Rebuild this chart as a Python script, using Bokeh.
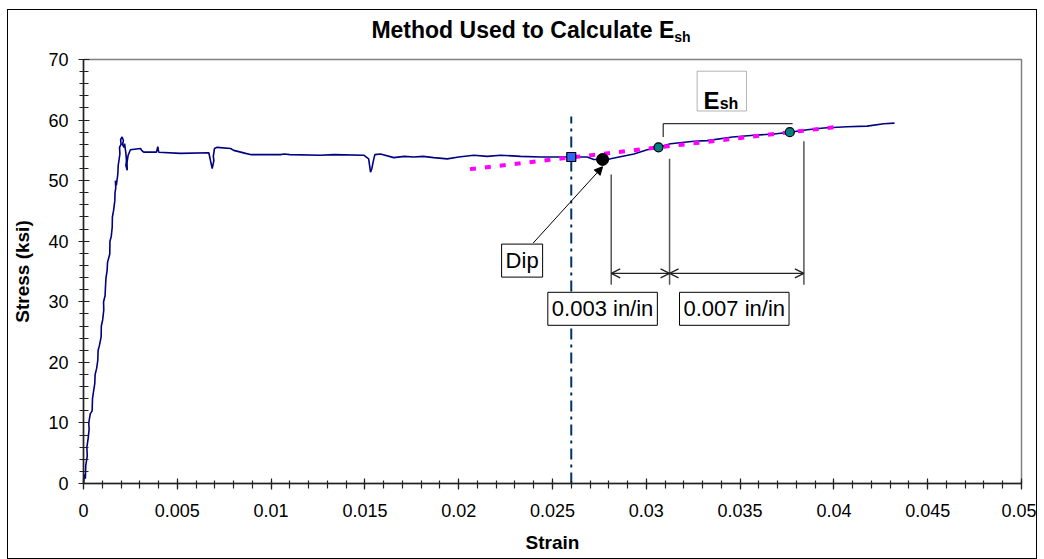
from bokeh.plotting import figure
from bokeh.layouts import column
from bokeh.models import (Range1d, FixedTicker, CustomJSTickFormatter, Label, Arrow,
                          OpenHead, NormalHead, BoxAnnotation, Div)
from bokeh.embed import file_html
from bokeh.resources import INLINE

# ---------------- data ----------------
strain = [0, 0.00005, 0.0001, 0.00012, 0.0002, 0.00018, 0.00025, 0.0003, 0.00028, 0.00036,
          0.00046, 0.00048, 0.00055, 0.0006, 0.00062, 0.0007, 0.00076, 0.00078, 0.00085, 0.00094,
          0.00095, 0.00102, 0.00108, 0.00107, 0.00115, 0.00117, 0.0012, 0.00126, 0.00128, 0.0014,
          0.00141, 0.00148, 0.00153, 0.00154, 0.0016, 0.00167, 0.00168, 0.00172, 0.0017, 0.00175,
          0.00183, 0.00185, 0.00194, 0.00192, 0.002, 0.00198, 0.00206, 0.00213, 0.00208, 0.00216,
          0.00219, 0.00226, 0.00229, 0.00226, 0.00233, 0.00232, 0.00238, 0.0025, 0.00304, 0.0031,
          0.00321, 0.00389, 0.00396, 0.00401, 0.00517, 0.00668, 0.00677, 0.00686, 0.00695, 0.00692,
          0.00698, 0.00713, 0.00784, 0.00801, 0.00864, 0.0089, 0.0105, 0.0107, 0.0110, 0.01263,
          0.01334, 0.01494, 0.0152, 0.0153, 0.01537, 0.01544, 0.01553, 0.01583, 0.01654, 0.0171,
          0.01761, 0.0181, 0.01867, 0.01939, 0.0200, 0.0208, 0.02152, 0.02223, 0.0233, 0.02436,
          0.02596, 0.02685, 0.0272, 0.02767, 0.02809, 0.02934, 0.03005, 0.03065, 0.03129, 0.03254,
          0.03324, 0.0346, 0.03573, 0.0368, 0.03765, 0.03858, 0.03946, 0.0407, 0.04177, 0.04266,
          0.04323]
stress = [0, 1.5, 0.8, 3.0, 4.5, 6.0, 7.5, 9.0, 10.0, 11.5,
          12.0, 14.0, 15.5, 16.5, 18.0, 19.0, 20.3, 22.0, 22.8, 24.2,
          26.0, 27.0, 28.6, 30.0, 31.0, 32.4, 34.0, 35.2, 36.5, 37.9,
          40.0, 40.8, 42.3, 44.0, 45.0, 46.7, 48.0, 48.8, 50.0, 49.2,
          51.1, 52.5, 54.4, 55.5, 56.0, 56.8, 57.2, 56.6, 56.0, 55.5,
          56.1, 54.5, 53.3, 52.5, 51.7, 53.0, 54.2, 55.1, 55.3, 55.0,
          54.7, 54.7, 55.6, 54.7, 54.5, 54.6, 53.3, 52.0, 53.3, 54.0,
          55.3, 55.5, 55.3, 55.0, 54.5, 54.3, 54.3, 54.4, 54.3, 54.2,
          54.3, 54.2, 53.6, 51.4, 52.0, 53.1, 54.3, 54.4, 53.8, 54.0,
          53.9, 54.0, 53.8, 53.6, 53.9, 54.2, 54.0, 54.2, 54.0, 53.9,
          53.9, 53.9, 53.5, 53.5, 53.6, 54.4, 55.1, 55.5, 56.1, 56.5,
          56.6, 57.2, 57.5, 57.7, 58.0, 58.4, 58.7, 58.9, 59.0, 59.4,
          59.5]

start_strain = [0.026]          # start of strain hardening (blue square)
start_stress = [53.9]
dip_strain = [0.02767]          # dip (black circle)
dip_stress = [53.5]
esh_strain = [0.03065, 0.03765]  # points used for E_sh (teal circles)
esh_stress = [55.5, 58.0]
fit_strain = [0.0206, 0.0402]   # E_sh line (magenta)
fit_stress = [51.9, 58.9]
vline_strain = [0.026, 0.026]
vline_stress = [0, 60.6]

dim_x = [0.02813, 0.03124, 0.0384]      # dimension lines
dim_top = [51.0, 53.6, 56.5]
dim_bottom = [32.8, 32.8, 32.8]
dim_arrow_y = 34.7
bracket_x = [0.0309, 0.0309, 0.0378]
bracket_y = [57.2, 59.4, 59.4]

x_ticks = [0, 0.005, 0.01, 0.015, 0.02, 0.025, 0.03, 0.035, 0.04, 0.045, 0.05]
x_tick_labels = ["0", "0.005", "0.01", "0.015", "0.02", "0.025", "0.03", "0.035", "0.04", "0.045", "0.05"]
y_ticks = [0, 10, 20, 30, 40, 50, 60, 70]
y_tick_labels = ["0", "10", "20", "30", "40", "50", "60", "70"]
x_minor = [i * 0.001 for i in range(51)]
y_minor = [i * 2 for i in range(36)]

FONT = "Liberation Sans"

title_div = Div(
    text=('<div style="width:1028px; text-align:center; padding-left:18px; box-sizing:border-box; '
          'padding-top:9px; font-family:\'Liberation Sans\'; font-weight:bold; font-size:23px; '
          'line-height:1; color:black; white-space:nowrap;">Method Used to Calculate E'
          '<span style="font-size:14px; position:relative; top:4px;">sh</span></div>'),
    width=1028, height=37, margin=(0, 0, 0, 0))

p = figure(width=1028, height=511, output_backend="svg", toolbar_location=None, title=None,
           x_range=Range1d(0, 0.05), y_range=Range1d(0, 70), margin=(0, 0, 0, 0),
           min_border_left=75, min_border_right=15, min_border_top=12, min_border_bottom=75)
p.background_fill_color = "white"
p.border_fill_color = "white"
p.outline_line_color = "#808080"
p.outline_line_width = 1.5
p.xgrid.visible = False
p.ygrid.visible = False

p.xaxis.ticker = FixedTicker(ticks=x_ticks, minor_ticks=x_minor)
p.yaxis.ticker = FixedTicker(ticks=y_ticks, minor_ticks=y_minor)
fmt_code = """
for (let i = 0; i < ticks_.length; i++) { if (Math.abs(ticks_[i] - tick) < 1e-9) return labels[i]; }
return "";
"""
p.xaxis.formatter = CustomJSTickFormatter(args=dict(ticks_=x_ticks, labels=x_tick_labels), code=fmt_code)
p.yaxis.formatter = CustomJSTickFormatter(args=dict(ticks_=y_ticks, labels=y_tick_labels), code=fmt_code)

for ax in (p.xaxis, p.yaxis):
    ax.axis_line_color = "#222222"
    ax.axis_line_width = 1.5
    ax.major_tick_line_color = "#222222"
    ax.minor_tick_line_color = "#222222"
    ax.major_tick_line_width = 1.2
    ax.minor_tick_line_width = 1.2
    ax.major_label_text_font = FONT
    ax.major_label_text_font_size = "18px"
    ax.major_label_text_color = "black"
    ax.axis_label_text_font = FONT
    ax.axis_label_text_font_style = "bold"
    ax.axis_label_text_font_size = "19px"
    ax.axis_label_text_color = "black"

p.xaxis.major_tick_in = 5
p.xaxis.major_tick_out = 6
p.xaxis.minor_tick_in = 3
p.xaxis.minor_tick_out = 5
p.yaxis.major_tick_in = 6
p.yaxis.major_tick_out = 5
p.yaxis.minor_tick_in = 5
p.yaxis.minor_tick_out = 4
p.xaxis.major_label_standoff = 14
p.yaxis.major_label_standoff = 10
p.xaxis.axis_label = "Strain"
p.yaxis.axis_label = "Stress (ksi)"
p.xaxis.axis_label_standoff = 12
p.yaxis.axis_label_standoff = 12

# ---------------- marks ----------------
p.line(vline_strain, vline_stress, line_color="#003366", line_width=2, line_dash="11 5 3 5")
p.line(strain, stress, line_color="#000080", line_width=1.6)
p.line(fit_strain, fit_stress, line_color="#FF00FF", line_width=4, line_dash="6 9")
p.scatter(start_strain, start_stress, marker="square", size=9, fill_color="#3366FF", line_color="black", line_width=1.2)
p.scatter(dip_strain, dip_stress, marker="circle", size=12, fill_color="black", line_color="black")
p.scatter(esh_strain, esh_stress, marker="circle", size=9, fill_color="#008080", line_color="black", line_width=1.2)

p.segment(x0=dim_x, y0=dim_bottom, x1=dim_x, y1=dim_top, line_color="#555555", line_width=1.5)
p.line(bracket_x, bracket_y, line_color="black", line_width=1)

head = dict(size=9, line_color="#222222", line_width=1.3)
p.add_layout(Arrow(start=OpenHead(**head), end=OpenHead(**head), x_start=dim_x[0], x_end=dim_x[1],
                   y_start=dim_arrow_y, y_end=dim_arrow_y, line_color="#222222", line_width=1.3))
p.add_layout(Arrow(start=OpenHead(**head), end=OpenHead(**head), x_start=dim_x[1], x_end=dim_x[2],
                   y_start=dim_arrow_y, y_end=dim_arrow_y, line_color="#222222", line_width=1.3))
p.add_layout(Arrow(end=NormalHead(size=8, fill_color="black", line_color="black"),
                   x_start=0.02397, y_start=39.7, x_end=dip_strain[0], y_end=52.3,
                   line_color="black", line_width=1))

box_style = dict(text_font=FONT, text_font_size="22px", text_color="black", text_align="center",
                 text_baseline="middle", border_line_color="black", border_line_width=1,
                 background_fill_color="white", padding=4)
p.add_layout(Label(x=0.02338, y=36.8, text="Dip", **box_style))
p.add_layout(Label(x=0.02767, y=28.84, text="0.003 in/in", **box_style))
p.add_layout(Label(x=0.03469, y=28.84, text="0.007 in/in", **box_style))

p.add_layout(BoxAnnotation(left=0.03271, right=0.03534, bottom=61.5, top=68.07,
                           fill_color="white", fill_alpha=1, line_color="black", line_width=1))
p.add_layout(Label(x=0.03305, y=63.23, text="E", text_font=FONT, text_font_style="bold",
                   text_font_size="24px", text_color="black", text_baseline="alphabetic"))
p.add_layout(Label(x=0.03391, y=62.69, text="sh", text_font=FONT, text_font_style="bold",
                   text_font_size="16px", text_color="black", text_baseline="alphabetic"))

layout = column(title_div, p, margin=(10, 0, 0, 8),
                styles={"outline": "1px solid black", "outline-offset": "0px"})

open("out.html", "w").write(file_html(layout, INLINE))
